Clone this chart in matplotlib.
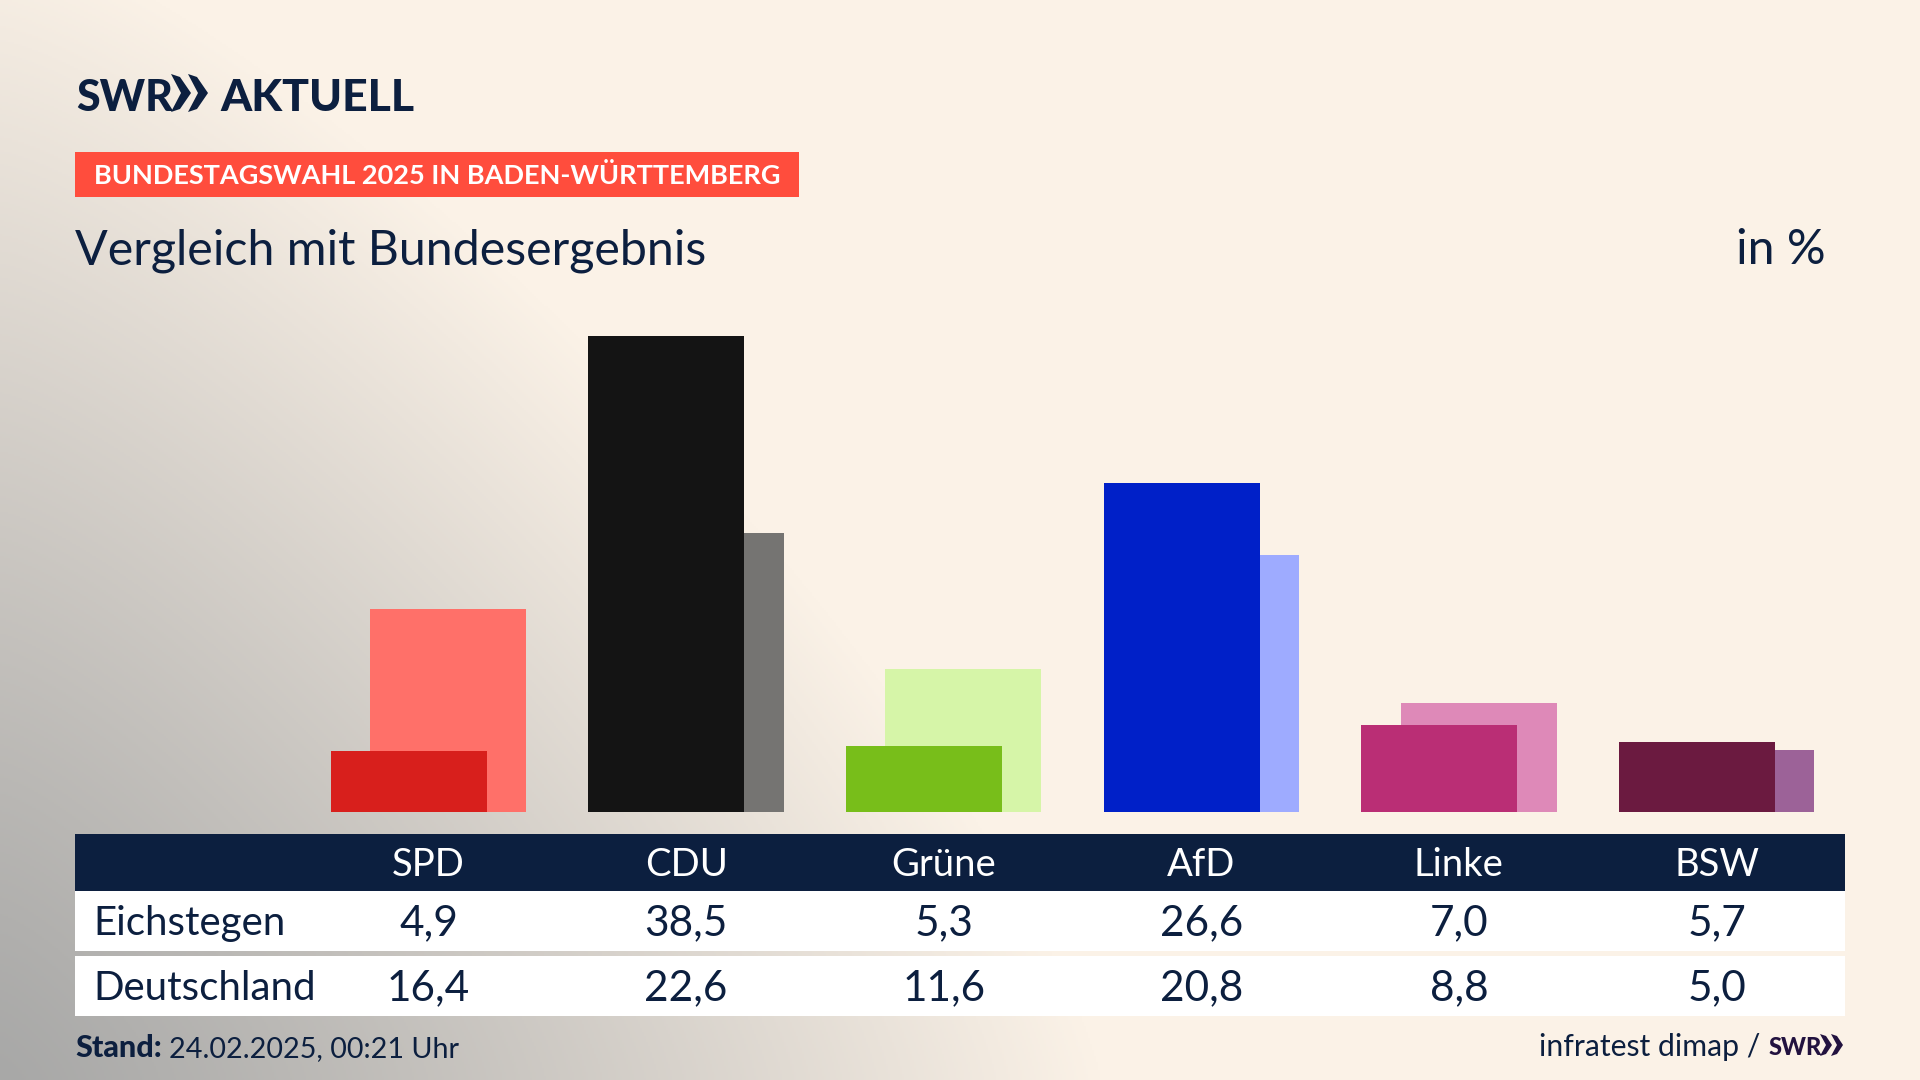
import numpy as np
import matplotlib
matplotlib.use("Agg")
import matplotlib.pyplot as plt
from matplotlib.patches import Rectangle, Polygon

parties = ["SPD", "CDU", "Grüne", "AfD", "Linke", "BSW"]
eichstegen = [4.9, 38.5, 5.3, 26.6, 7.0, 5.7]
deutschland = [16.4, 22.6, 11.6, 20.8, 8.8, 5.0]
row_names = ["Eichstegen", "Deutschland"]
dark_colors = ["#D81F1C", "#141414", "#78BE1A", "#0020C8", "#BA2E75", "#6B1A40"]
light_colors = ["#FF7069", "#757472", "#D6F5A8", "#9EABFF", "#DE89B8", "#9C6298"]

NAVY = "#0C1F3F"
FONT = "Lato"
W, H = 1920, 1080
plt.rcParams["font.family"] = [FONT, "DejaVu Sans"]

def de(v):
    return f"{v:.1f}".replace(".", ",")

fig = plt.figure(figsize=(19.2, 10.8), dpi=100)
bg = fig.add_axes([0, 0, 1, 1])
bg.set_xlim(0, W); bg.set_ylim(H, 0); bg.axis("off")

# background gradient
yy, xx = np.mgrid[0:H:2, 0:W:2]
p = 1.3
r = ((xx / 1100.0) ** p + ((H - yy) / 1150.0) ** p) ** (1 / p)
t = np.clip(r, 0, 1) ** 1.15
c0 = np.array([168, 168, 167]) / 255
c1 = np.array([251, 242, 231]) / 255
img = c0 + (c1 - c0) * t[..., None]
bg.imshow(img, extent=(0, W, H, 0), aspect="auto", zorder=0)
bg.set_xlim(0, W); bg.set_ylim(H, 0)

# logo
def chevrons(x, y0, y1, w, gap, color):
    ym = (y0 + y1) / 2
    for k in range(2):
        xk = x + k * gap
        bg.add_patch(Polygon([(xk, y0), (xk + w * .45, y0 + 3), (xk + w, ym), (xk + w * .45, y1 - 3), (xk, y1), (xk + w * .5, ym)],
                             closed=True, fc=color, ec="none", zorder=3))

bg.text(76, 111, "SWR", fontsize=31, fontweight="black", color=NAVY, va="baseline", ha="left", zorder=3)
chevrons(171, 74, 112, 20, 17, NAVY)
bg.text(220, 111, "AKTUELL", fontsize=32, fontweight="black", color=NAVY, va="baseline", ha="left", zorder=3)

# banner
bg.add_patch(Rectangle((75, 152), 724, 45, fc="#FF4D3D", ec="none", zorder=2))
bg.text(94, 184, "BUNDESTAGSWAHL 2025 IN BADEN-WÜRTTEMBERG", fontsize=19.5, fontweight="bold", color="white",
        va="baseline", zorder=3)

# title
bg.text(75, 264.5, "Vergleich mit Bundesergebnis", fontsize=34.8, color=NAVY, va="baseline", zorder=3)
bg.text(1826, 264.5, "in %", fontsize=34.8, color=NAVY, va="baseline", ha="right", zorder=3)

# bars
SPACE = 257.6
X0 = 428.5
Y_BASE = 812
PX_PER_UNIT = 12.36
TOP = 300
ax = fig.add_axes([75 / W, 1 - Y_BASE / H, (1843 - 75) / W, (Y_BASE - TOP) / H])
ax.set_xlim((75 - X0) / SPACE, (1843 - X0) / SPACE)
ax.set_ylim(0, (Y_BASE - TOP) / PX_PER_UNIT)
ax.axis("off")
x = np.arange(len(parties))
bw = 156 / SPACE
off = 39.5 / SPACE / 2
ax.bar(x + off, deutschland, width=bw, color=light_colors, zorder=1)
ax.bar(x - off, eichstegen, width=bw, color=dark_colors, zorder=2)

# table
table = fig.add_axes([0, 0, 1, 1], facecolor="none")
table.set_xlim(0, W); table.set_ylim(H, 0); table.axis("off")
table.add_patch(Rectangle((75, 834), 1770, 57, fc=NAVY, ec="none"))
table.add_patch(Rectangle((75, 891), 1770, 60, fc="white", ec="none"))
table.add_patch(Rectangle((75, 956), 1770, 60, fc="white", ec="none"))
HEAD_FS = 27.5
NUM_FS = 30.5
LABEL_FS = 29
for i, p_name in enumerate(parties):
    cx = X0 + SPACE * i
    table.text(cx, 875.5, p_name, fontsize=HEAD_FS, color="white", ha="center", va="baseline")
    table.text(cx, 935, de(eichstegen[i]), fontsize=NUM_FS, color=NAVY, ha="center", va="baseline")
    table.text(cx, 1000.5, de(deutschland[i]), fontsize=NUM_FS, color=NAVY, ha="center", va="baseline")
table.text(93.5, 934.5, row_names[0], fontsize=LABEL_FS, color=NAVY, va="baseline")
table.text(93.5, 999.5, row_names[1], fontsize=LABEL_FS, color=NAVY, va="baseline")

# footer
table.text(75, 1057, "Stand:", fontsize=22, fontweight="black", color=NAVY, va="baseline")
table.text(169, 1057, "24.02.2025, 00:21 Uhr", fontsize=20.7, color=NAVY, va="baseline")
table.text(1760, 1056, "infratest dimap /", fontsize=21.7, color=NAVY, va="baseline", ha="right")
table.text(1769, 1055, "SWR", fontsize=17, fontweight="black", color="#22123F", va="baseline")
for k in range(2):
    xk = 1820 + k * 11
    table.add_patch(Polygon([(xk, 1034), (xk + 6, 1036), (xk + 12, 1045), (xk + 6, 1054), (xk, 1056), (xk + 6, 1045)],
                            closed=True, fc="#22123F", ec="none"))

fig.savefig("out.png", dpi=100)
